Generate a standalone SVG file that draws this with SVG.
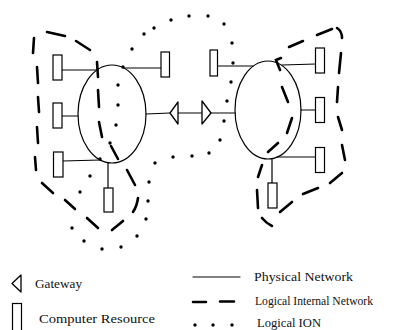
<svg xmlns="http://www.w3.org/2000/svg" width="399" height="330" viewBox="0 0 399 330">
  <style>
    .phys { fill: none; stroke: #000; stroke-width: 1.2; stroke-linecap: round; }
    .res { fill: #fff; stroke: #000; stroke-width: 1.2; }
    .gw { fill: #fff; stroke: #000; stroke-width: 1.3; stroke-linejoin: round; }
    .lin { fill: none; stroke: #000; stroke-width: 2.6; stroke-linecap: round; }
    .ion { fill: #000; }
    .lbl { font-family: "Liberation Serif", "Times New Roman", serif; font-size: 13px; fill: #111; }
  </style>
  <rect width="399" height="330" fill="#fff"/>

  <!-- physical links between networks, resources and gateways -->
  <g id="connectors">
    <g class="phys">
      <!-- left network -->
      <line x1="62" y1="70" x2="97" y2="70"/>
      <line x1="62" y1="116" x2="78" y2="116"/>
      <line x1="63" y1="161" x2="100" y2="160"/>
      <line x1="108" y1="163" x2="108" y2="188"/>
      <line x1="124" y1="68" x2="161" y2="68"/>
      <!-- gateway chain -->
      <line x1="146" y1="114" x2="170" y2="113"/>
      <line x1="178" y1="113" x2="202" y2="113"/>
      <line x1="211" y1="113" x2="235" y2="113"/>
      <!-- right network -->
      <line x1="217.5" y1="66" x2="253" y2="66"/>
      <line x1="282" y1="65" x2="316" y2="64"/>
      <line x1="301" y1="110" x2="316" y2="110"/>
      <line x1="277" y1="157" x2="316" y2="157"/>
      <line x1="272" y1="159" x2="272" y2="183"/>
    </g>

    <!-- logical internal network, left -->
    <path class="lin" d="M33,53 L34,38 M47,32 L65,36 M76,41 L90,50 M97,62 L98,77 M98,90 L99,107 M99,122 L102,137 M111,146 L118,159 M127,170 L135,185 M138,198 Q137,206 133,212 M123,221 L112,230 M98,228 L87,218 M75,209 L65,200 M53,193 L42,183 M35,157 L36,170 M37,127 L38,143 M38,97 L39,112 M37,67 L38,83"/>

    <!-- logical internal network, right -->
    <path class="lin" d="M289,47 L303,41 M317,35 L332,29 M337,28 Q342,31 342,38 M341,53 L339,73 M338,87 L337,102 M338,117 L342,130 M342,145 L345,160 M342,173 L330,183 M318,188 L303,194 M292,202 L280,212 M272,226 Q266,223 262,218 M258,208 L257,190 M258,177 L262,165 M268,152 L278,143 M287,133 L292,118 M288,102 L282,87 M280,70 L276,60 L281,58"/>

    <!-- logical ION -->
    <g class="ion">
      <circle cx="100" cy="159" r="1.7"/>
      <circle cx="110" cy="143" r="1.7"/>
      <circle cx="116" cy="125" r="1.7"/>
      <circle cx="118" cy="105" r="1.7"/>
      <circle cx="118" cy="85" r="1.7"/>
      <circle cx="123" cy="67" r="1.7"/>
      <circle cx="132" cy="49" r="1.7"/>
      <circle cx="144" cy="34" r="1.7"/>
      <circle cx="154" cy="28" r="1.7"/>
      <circle cx="171" cy="20" r="1.7"/>
      <circle cx="189" cy="16" r="1.7"/>
      <circle cx="208" cy="16" r="1.7"/>
      <circle cx="224" cy="24" r="1.7"/>
      <circle cx="232" cy="43" r="1.7"/>
      <circle cx="233" cy="63" r="1.7"/>
      <circle cx="231" cy="82" r="1.7"/>
      <circle cx="227" cy="101" r="1.7"/>
      <circle cx="224" cy="121" r="1.7"/>
      <circle cx="220" cy="140" r="1.7"/>
      <circle cx="209" cy="153" r="1.7"/>
      <circle cx="192" cy="156" r="1.7"/>
      <circle cx="173" cy="157" r="1.7"/>
      <circle cx="155" cy="163" r="1.7"/>
      <circle cx="149" cy="182" r="1.7"/>
      <circle cx="148" cy="201" r="1.7"/>
      <circle cx="146" cy="219" r="1.7"/>
      <circle cx="137" cy="236" r="1.7"/>
      <circle cx="121" cy="247" r="1.7"/>
      <circle cx="102" cy="249" r="1.7"/>
      <circle cx="84" cy="241" r="1.7"/>
      <circle cx="72" cy="228" r="1.7"/>
      <circle cx="80" cy="192" r="1.7"/>
      <circle cx="90" cy="176" r="1.7"/>
    </g>
  </g>

  <!-- physical networks -->
  <g id="net-left"><ellipse class="phys" cx="112" cy="114" rx="34" ry="49"/></g>
  <g id="net-right"><ellipse class="phys" cx="268" cy="110" rx="33" ry="49"/></g>

  <!-- gateways -->
  <g id="gw-left"><polygon class="gw" points="170,113 178,102 178,124"/></g>
  <g id="gw-right"><polygon class="gw" points="211,113 202,101 202,124"/></g>

  <!-- computer resources -->
  <g id="res-l1"><rect class="res" x="53" y="55" width="9" height="25"/></g>
  <g id="res-l2"><rect class="res" x="53" y="103" width="9" height="25"/></g>
  <g id="res-l3"><rect class="res" x="53.5" y="152" width="9.5" height="25"/></g>
  <g id="res-l4"><rect class="res" x="104" y="188" width="9" height="24"/></g>
  <g id="res-l5"><rect class="res" x="161" y="52" width="8.5" height="25"/></g>
  <g id="res-r1"><rect class="res" x="210" y="50" width="7.5" height="26"/></g>
  <g id="res-r2"><rect class="res" x="315.5" y="48" width="9" height="25"/></g>
  <g id="res-r3"><rect class="res" x="315.5" y="97.5" width="9" height="25"/></g>
  <g id="res-r4"><rect class="res" x="315.5" y="147.5" width="9" height="25"/></g>
  <g id="res-r5"><rect class="res" x="268" y="183" width="9" height="25"/></g>

  <!-- legend -->
  <g id="legend">
    <polygon class="gw" points="12,283.5 21,275 21,292"/>
    <text class="lbl" x="35" y="288" textLength="47" lengthAdjust="spacingAndGlyphs">Gateway</text>
    <rect class="res" x="12.5" y="303.5" width="9" height="28"/>
    <text class="lbl" x="39" y="322.5" textLength="116" lengthAdjust="spacingAndGlyphs">Computer Resource</text>

    <line class="phys" x1="193" y1="277" x2="240" y2="277"/>
    <text class="lbl" x="254" y="281" textLength="99" lengthAdjust="spacingAndGlyphs">Physical Network</text>
    <path class="lin" d="M193,302 L206,302 M220,301.5 L234,301.5"/>
    <text class="lbl" x="255" y="304.5" textLength="118" lengthAdjust="spacingAndGlyphs">Logical Internal Network</text>
    <g class="ion">
      <circle cx="195" cy="325" r="1.7"/>
      <circle cx="213" cy="325" r="1.7"/>
      <circle cx="232" cy="325" r="1.7"/>
    </g>
    <text class="lbl" x="257" y="326.5" textLength="64" lengthAdjust="spacingAndGlyphs">Logical ION</text>
  </g>
</svg>
